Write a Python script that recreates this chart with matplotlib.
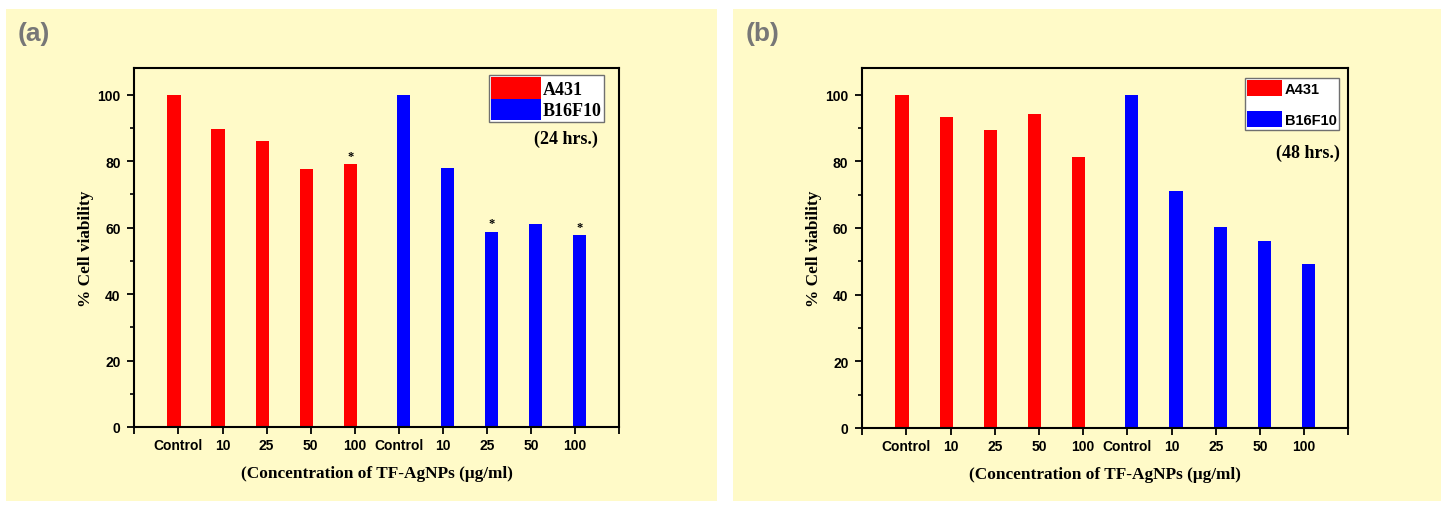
import matplotlib
matplotlib.use('Agg')
import matplotlib.pyplot as plt
from matplotlib.patches import Rectangle
from matplotlib import font_manager
import numpy as np

# data
CATEGORIES = ['Control', '10', '25', '50', '100', 'Control', '10', '25', '50', '100']
A431_24H = [100, 89.5, 86, 77.5, 79]
B16F10_24H = [100, 78, 58.8, 61, 57.7]
STARS_24H = [4, 7, 9]          # bar index (0..9) with a significance star
A431_48H = [100, 93.3, 89.4, 94.3, 81.4]
B16F10_48H = [100, 71, 60.2, 56.2, 49.2]
STARS_48H = []

names = {f.name for f in font_manager.fontManager.ttflist}
NARROW = 'Liberation Sans Narrow' if 'Liberation Sans Narrow' in names else 'Liberation Sans'
SERIF = 'Liberation Serif'
PANEL_BG = '#FFFAC8'

fig = plt.figure(figsize=(14.47, 5.06), dpi=100)
fig.patch.set_facecolor('white')
fig.patches.append(Rectangle((6 / 1447, 1 - 502 / 506), (717 - 6) / 1447, (502 - 10) / 506,
                             transform=fig.transFigure, facecolor=PANEL_BG, edgecolor='none', zorder=-10))
fig.patches.append(Rectangle((733 / 1447, 1 - 502 / 506), (1441 - 733) / 1447, (502 - 10) / 506,
                             transform=fig.transFigure, facecolor=PANEL_BG, edgecolor='none', zorder=-10))


def draw_panel(rect, red, blue, stars, tag, hrs, legend_style):
    ax = fig.add_axes(rect)
    ax.set_facecolor('none')
    xr = np.arange(1, 6)
    xb = np.arange(6, 11)
    ax.bar(xr - 0.1, red, width=0.3, color='#FF0000', label='A431')
    ax.bar(xb + 0.1, blue, width=0.3, color='#0000FF', label='B16F10')
    allv = list(red) + list(blue)
    for i in stars:
        xpos = (i + 1) - 0.1 if i < 5 else (i + 1) + 0.1
        ax.text(xpos, allv[i] + 0.8, '*', ha='center', va='bottom', fontsize=9,
                fontweight='bold', family=SERIF)

    ax.set_xlim(0, 11)
    ax.set_ylim(0, 108)
    ax.set_xticks(np.arange(0, 12))
    ax.set_xticklabels([''] + CATEGORIES + [''])
    ax.set_yticks(np.arange(0, 101, 20))
    ax.set_yticks(np.arange(10, 100, 20), minor=True)
    ax.tick_params(axis='both', which='major', direction='out', length=5, width=1.3,
                   labelsize=10, pad=3)
    ax.tick_params(axis='y', which='minor', direction='out', length=3, width=1.2)
    ax.tick_params(axis='y', pad=5)
    for lab in ax.get_xticklabels() + ax.get_yticklabels():
        lab.set_family(NARROW)
        lab.set_fontweight('bold')
    for s in ax.spines.values():
        s.set_linewidth(1.5)

    ax.set_ylabel('% Cell viability', family=SERIF, fontweight='bold', fontsize=12.4, labelpad=2)
    ax.set_xlabel('(Concentration of TF-AgNPs (\u03bcg/ml)', family=SERIF, fontweight='bold',
                  fontsize=12.4, labelpad=9)

    if legend_style == 'a':
        leg = ax.legend(loc='upper right', bbox_to_anchor=(0.969, 0.98), borderaxespad=0,
                        prop={'family': SERIF, 'weight': 'bold', 'size': 13},
                        handlelength=2.75, handleheight=1.45, labelspacing=0.0,
                        handletextpad=0.1, borderpad=0.12)
        ax.text(0.957, 0.805, hrs, transform=ax.transAxes, ha='right', va='center',
                family=SERIF, fontweight='bold', fontsize=13)
    else:
        leg = ax.legend(loc='upper right', bbox_to_anchor=(0.981, 0.972), borderaxespad=0,
                        prop={'family': NARROW, 'weight': 'bold', 'size': 10.5},
                        handlelength=2.4, handleheight=1.3, labelspacing=1.05,
                        handletextpad=0.2, borderpad=0.15)
        ax.text(0.983, 0.767, hrs, transform=ax.transAxes, ha='right', va='center',
                family=SERIF, fontweight='bold', fontsize=13)
    fr = leg.get_frame()
    fr.set_boxstyle('square', pad=0)
    fr.set_facecolor('white')
    fr.set_edgecolor('#707070')
    fr.set_linewidth(1.0)
    fr.set_alpha(1)

    fig.text(rect[0] - 117 / 1447, 1 - 34 / 506, tag, ha='left', va='center', fontsize=19,
             fontweight='bold', color='#777777', family='Liberation Sans')
    return ax


draw_panel([134.4 / 1447, 1 - 428 / 506, 484.6 / 1447, 359 / 506],
           A431_24H, B16F10_24H, STARS_24H, '(a)', '(24 hrs.)', 'a')
draw_panel([862.3 / 1447, 1 - 429 / 506, 486 / 1447, 360 / 506],
           A431_48H, B16F10_48H, STARS_48H, '(b)', '(48 hrs.)', 'b')

plt.savefig('out.png', dpi=100, facecolor='white')
plt.close()
